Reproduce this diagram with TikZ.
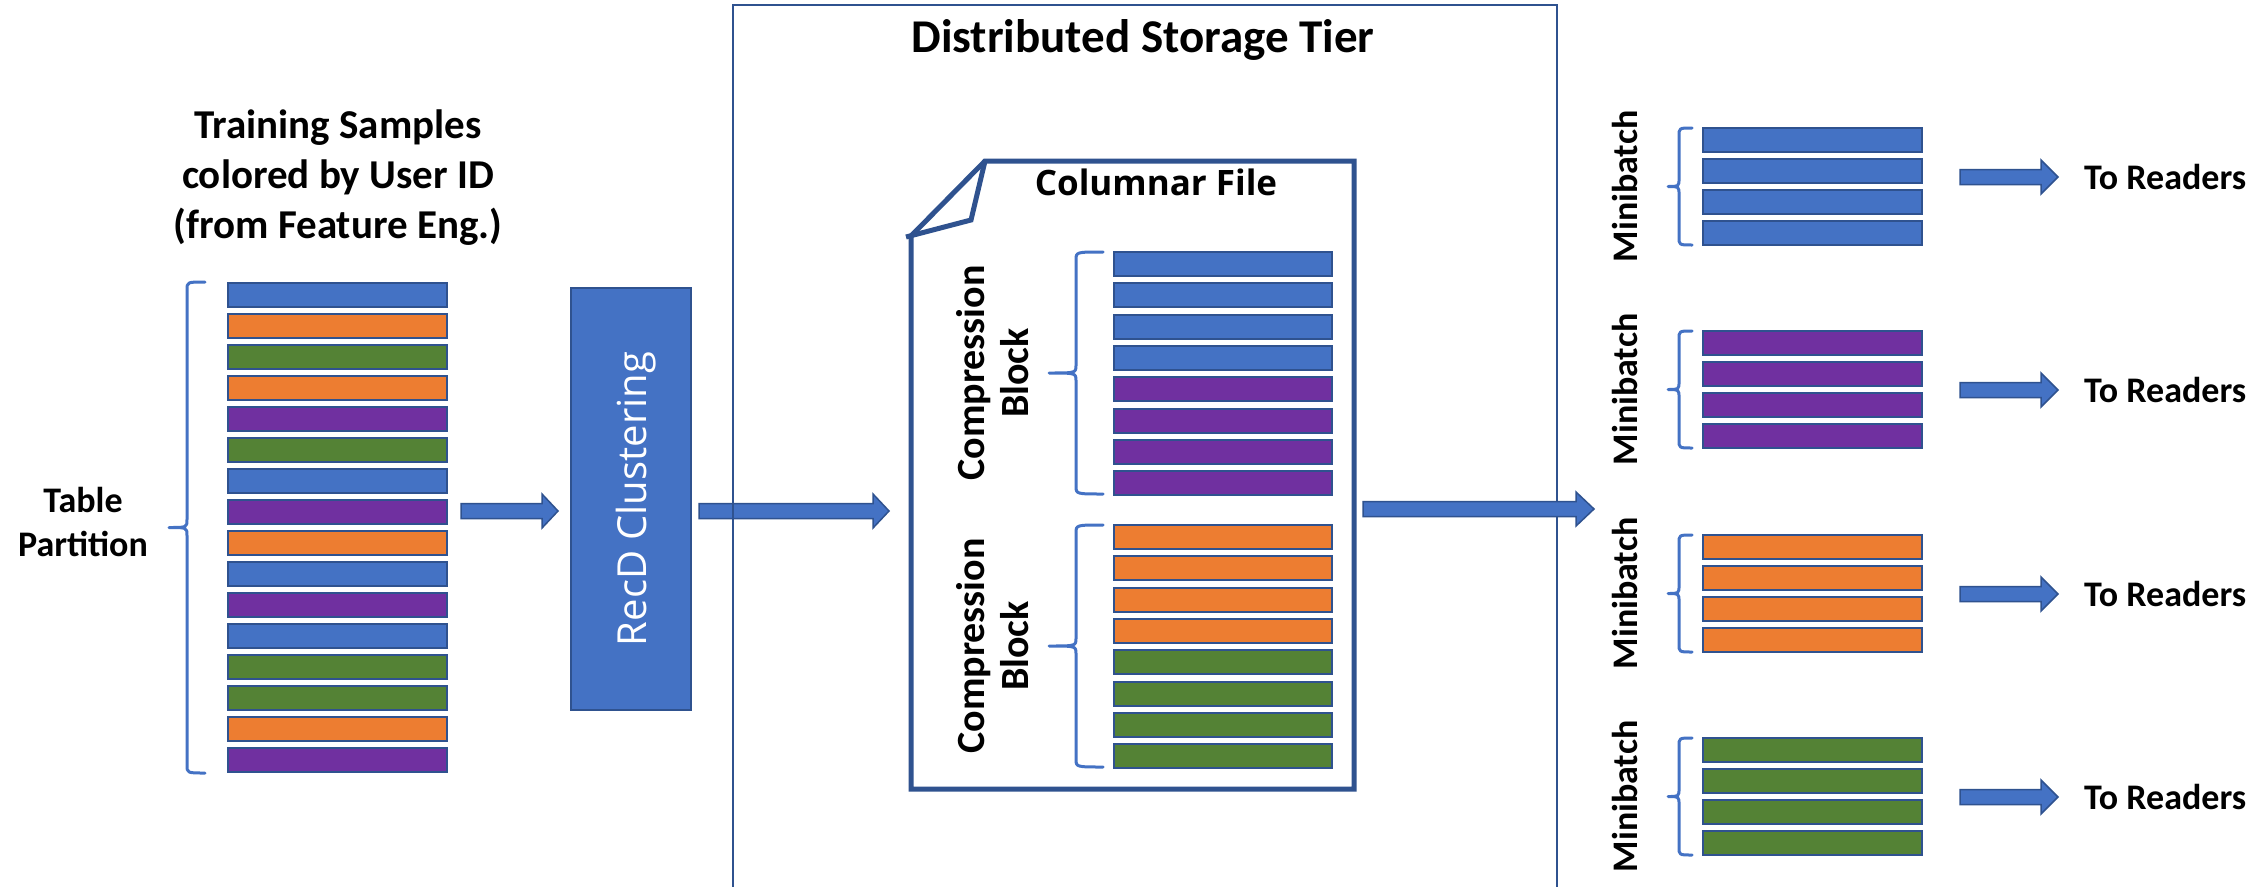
\documentclass[tikz,border=0pt]{standalone}
\usepackage{fontspec}
\setmainfont{Carlito}
\newfontfamily\uifont{Open Sans}
\usetikzlibrary{calc}

\definecolor{accblue}{HTML}{4472C4}
\definecolor{accorange}{HTML}{ED7D31}
\definecolor{accgreen}{HTML}{548235}
\definecolor{accpurple}{HTML}{7030A0}
\definecolor{edgeblue}{HTML}{2F528F}

\tikzset{
  rowbar/.style={draw=edgeblue, line width=2pt, minimum width=219pt,
    minimum height=24pt, inner sep=0pt},
  bracestyle/.style={draw=accblue, line width=3pt, line cap=round, line join=round},
  arrowstyle/.style={draw=edgeblue, fill=accblue, line width=1.5pt, line join=miter},
  label/.style={font=\bfseries\fontsize{36pt}{44pt}\selectfont, inner sep=0pt, align=center},
  vlabel/.style={label, rotate=90},
  fileline/.style={draw=edgeblue, line width=5pt, line join=miter},
  tierline/.style={draw=edgeblue, line width=2pt}
}

% curly brace opening to the right: end x, spine x, tip x, top y, bottom y
\newcommand\curlybrace[5]{%
  \draw[bracestyle] (#1,#4) .. controls (#2,#4) .. (#2,#4+8)
    -- (#2,{(#4+#5)/2-8}) .. controls (#2,{(#4+#5)/2}) .. (#3,{(#4+#5)/2})
    .. controls (#2,{(#4+#5)/2}) .. (#2,{(#4+#5)/2+8})
    -- (#2,#5-8) .. controls (#2,#5) .. (#1,#5);}

% horizontal block arrow from a start coordinate to a tip coordinate
\newcommand\fatarrow[3]{%
  \draw[arrowstyle] let \p1=(#1), \p2=(#2) in
    (\x1,\y1+7.5pt) -- (\x2-#3pt,\y1+7.5pt) -- (\x2-#3pt,\y1+17pt) -- (\x2,\y1)
    -- (\x2-#3pt,\y1-17pt) -- (\x2-#3pt,\y1-7.5pt) -- (\x1,\y1-7.5pt) -- cycle;}

\begin{document}
\begin{tikzpicture}[x=1pt, y=-1pt]
\useasboundingbox[fill=white] (0,0) rectangle (2266,886);

% ---- input table partition ----
\node[label, font=\bfseries\fontsize{41pt}{50pt}\selectfont] (samples) at (338,178)
  {Training Samples\\colored by User ID\\(from Feature Eng.)};
\foreach \c [count=\i from 0] in {accblue,accorange,accgreen,accorange,accpurple,accgreen,
    accblue,accpurple,accorange,accblue,accpurple,accblue,accgreen,accgreen,accorange,accpurple}
  \node[rowbar, fill=\c] (L\i) at (337.5,{295+31*\i}) {};
\curlybrace{205}{187}{169}{282}{773}
\node[label] (partition) at (83,522) {Table\\Partition};

% ---- clustering stage ----
\node[draw=edgeblue, fill=accblue, line width=2pt, minimum width=120pt,
  minimum height=422pt, inner sep=0pt] (recd) at (631,499) {};
\node[rotate=90, text=white, inner sep=0pt, text depth=0pt,
  font=\uifont\fontsize{40pt}{48pt}\selectfont] (recdtext) at (recd.center) {RecD Clustering};

\coordinate (a1s) at (461,511); \coordinate (a1e) at (558,511);
\fatarrow{a1s}{a1e}{16}
\coordinate (a2s) at (699,511); \coordinate (a2e) at (889,511);
\fatarrow{a2s}{a2e}{16}

% ---- storage tier ----
\draw[tierline] (733,890) -- (733,5) -- (1557,5) -- (1557,890);
\node[label, font=\bfseries\fontsize{47pt}{56pt}\selectfont] (title) at (1143,40) {Distributed Storage Tier};

% columnar file with folded corner
\draw[fileline, fill=white] (911,789) -- (911,236) -- (985,161) -- (1354,161) -- (1354,789) -- cycle;
\draw[fileline] (985,161) -- (971,220) -- (906,237);
\node[inner sep=0pt, font=\uifont\bfseries\fontsize{35pt}{42pt}\selectfont] (colfile) at (1156,182) {Columnar File};

\foreach \c [count=\i from 0] in {accblue,accblue,accblue,accblue,accpurple,accpurple,accpurple,accpurple}
  \node[rowbar, minimum width=218pt, fill=\c] (C\i) at (1223,{264+31.3*\i}) {};
\foreach \c [count=\i from 0] in {accorange,accorange,accorange,accorange,accgreen,accgreen,accgreen,accgreen}
  \node[rowbar, minimum width=218pt, fill=\c] (D\i) at (1223,{537+31.3*\i}) {};
\curlybrace{1103}{1076}{1049}{252}{494}
\curlybrace{1103}{1076}{1049}{525}{767}
\node[vlabel, font=\bfseries\fontsize{40pt}{44pt}\selectfont] (cb1) at (993,373) {Compression\\Block};
\node[vlabel, font=\bfseries\fontsize{40pt}{44pt}\selectfont] (cb2) at (993,646) {Compression\\Block};

\coordinate (a3s) at (1363,509); \coordinate (a3e) at (1594,509);
\fatarrow{a3s}{a3e}{18}

% ---- minibatches sent to readers ----
\foreach \g/\c/\ay [count=\k] in {128/accblue/177, 331/accpurple/390, 535/accorange/594, 738/accgreen/797} {
  \foreach \j in {0,...,3}
    \node[rowbar, fill=\c] (M\k\j) at (1812.5,{\g+12+31*\j}) {};
  \curlybrace{1692}{1679}{1668}{\g}{\g+117}
  \node[vlabel] (mb\k) at (1625,{\g+58.5}) {Minibatch};
  \coordinate (r\k s) at (1960,\ay);
  \coordinate (r\k e) at (2058,\ay);
  \fatarrow{r\k s}{r\k e}{17}
  \node[label, anchor=west] (tr\k) at (2084,\ay) {To Readers};
}
\end{tikzpicture}
\end{document}
